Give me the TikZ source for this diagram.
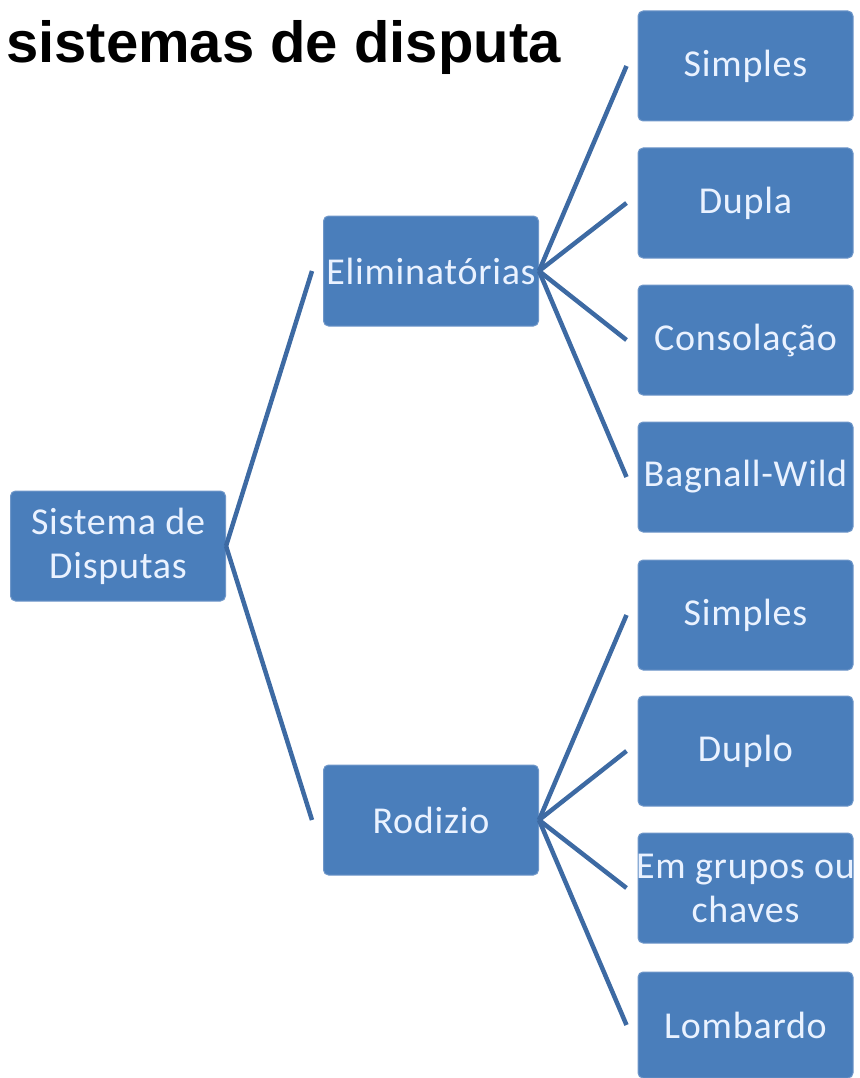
\documentclass[tikz,border=0pt]{standalone}
\usepackage{fontspec}
\setmainfont{Carlito}
\newfontfamily\titlefont{Liberation Sans}
\definecolor{boxblue}{HTML}{4A7EBB}
\definecolor{boxedge}{HTML}{6F97C9}
\definecolor{lineblue}{HTML}{3D6AA3}
\definecolor{boxtext}{HTML}{EAF2FF}
\newcommand{\fixw}[1]{\makebox[200pt][c]{#1}}
\tikzset{
  sabox/.style={rectangle, rounded corners=5pt, fill=boxblue, draw=boxedge, line width=1pt,
    minimum width=215pt, minimum height=110pt, inner sep=0pt, align=center, text=boxtext,
    font=\fontsize{38}{44}\selectfont\addfontfeatures{LetterSpace=2}},
  conn/.style={draw=lineblue, line width=4.5pt},
  titletext/.style={anchor=base west, inner sep=0pt, font=\titlefont\bfseries\fontsize{58}{64}\selectfont}
}
\begin{document}
\begin{tikzpicture}[x=1pt,y=-1pt]
\useasboundingbox (0,0) rectangle (859,1078);
\node[titletext] (title) at (6,63) {sistemas de disputa};
\node[sabox] (root) at (118,546) {Sistema de\\Disputas};
\node[sabox] (elim) at (431,271) {\fixw{Eliminatórias}};
\node[sabox] (rod) at (431,820) {Rodizio};
\node[sabox] (e1) at (745.5,66) {Simples};
\node[sabox] (e2) at (745.5,203) {Dupla};
\node[sabox] (e3) at (745.5,340) {Consolação};
\node[sabox] (e4) at (745.5,477) {\fixw{Bagnall-Wild}};
\node[sabox] (r1) at (745.5,615) {Simples};
\node[sabox] (r2) at (745.5,751) {Duplo};
\node[sabox] (r3) at (745.5,888) {\fixw{Em grupos ou}\\\fixw{chaves}};
\node[sabox, minimum height=106pt] (r4) at (745.5,1025) {Lombardo};
\draw[conn] (root.east) -- ([xshift=-11pt]elim.west);
\draw[conn] (root.east) -- ([xshift=-11pt]rod.west);
\foreach \c in {e1,e2,e3,e4} \draw[conn] (elim.east) -- ([xshift=-11pt]\c.west);
\foreach \c in {r1,r2,r3,r4} \draw[conn] (rod.east) -- ([xshift=-11pt]\c.west);
\end{tikzpicture}
\end{document}
